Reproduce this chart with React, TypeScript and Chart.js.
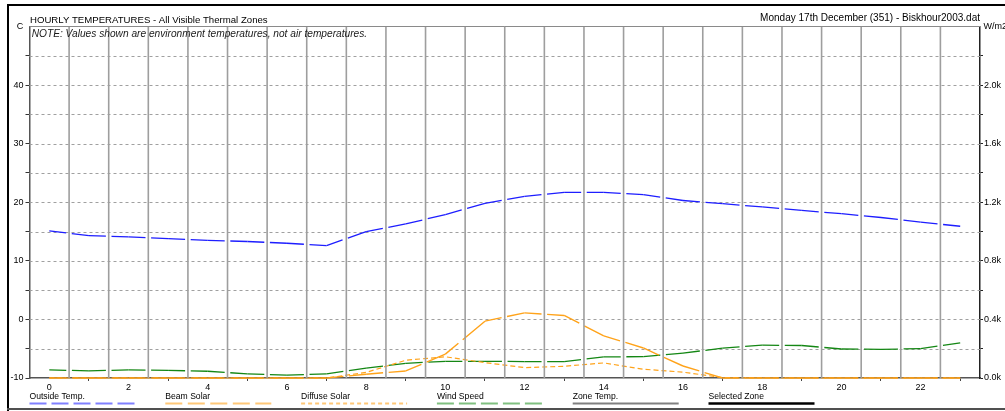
import React, { useEffect, useRef } from 'react';
import { Chart, registerables } from 'chart.js';

Chart.register(...registerables);

// ---------- data ----------
const hours = [0, 1, 2, 3, 4, 5, 6, 7, 8, 9, 10, 11, 12, 13, 14, 15, 16, 17, 18, 19, 20, 21, 22, 23];
const outsideTemp = [15.1, 14.3, 14.1, 13.8, 13.5, 13.3, 13.0, 12.6, 15.0, 16.3, 17.9, 19.8, 21.0, 21.7, 21.7, 21.3, 20.3, 19.75, 19.2, 18.6, 18.05, 17.4, 16.6, 15.9];
const beamSolar = [0, 0, 0, 0, 0, 0, 0, 0, 26, 48, 163, 388, 445, 427, 288, 205, 82, 0, 0, 0, 0, 0, 0, 0];
const diffuseSolar = [0, 0, 0, 0, 0, 0, 0, 0, 38, 121, 145, 105, 71, 80, 103, 60, 40, 3, 0, 0, 0, 0, 0, 0];
const windSpeed = [-8.6, -8.8, -8.6, -8.7, -8.85, -9.3, -9.5, -9.3, -8.3, -7.5, -7.15, -7.15, -7.2, -7.2, -6.4, -6.35, -5.75, -4.9, -4.4, -4.45, -5.05, -5.1, -5.0, -4.0];

const leftTicks = [-10, -5, 0, 5, 10, 15, 20, 25, 30, 35, 40, 45];
const rightTicks = [0, 200, 400, 600, 800, 1000, 1200, 1400, 1600, 1800, 2000, 2200];
const legendLabels = ['Outside Temp.', 'Beam Solar', 'Diffuse Solar', 'Wind Speed', 'Zone Temp.', 'Selected Zone'];

const titleText = 'HOURLY TEMPERATURES - All Visible Thermal Zones';
const noteText = 'NOTE: Values shown are environment temperatures, not air temperatures.';
const dateText = 'Monday 17th December (351) - Biskhour2003.dat';
const leftUnit = 'C';
const rightUnit = 'W/m2';

// ---------- styles ----------
const FONT = '"Liberation Sans", Arial, sans-serif';
const PERIOD = 39.6;
const HOUR_DASH = [34, 5.6];

const legendStyles = [
  { color: '#8080ff', dash: [17, 5], width: 2 },
  { color: '#ffc878', dash: [17, 5.5], width: 2 },
  { color: '#ffc878', dash: [4, 3], width: 2 },
  { color: '#80c080', dash: [17, 5], width: 2 },
  { color: '#808080', dash: [], width: 2 },
  { color: '#000000', dash: [], width: 2.5 },
];

function fitText(ctx: CanvasRenderingContext2D, text: string, target: number, style: string) {
  ctx.font = `${style} 10px ${FONT}`;
  const w = ctx.measureText(text).width;
  const size = (10 * target) / w;
  ctx.font = `${style} ${size.toFixed(2)}px ${FONT}`;
}

const decorPlugin = {
  id: 'decor',
  beforeDatasetsDraw(chart: any) {
    const { ctx, chartArea: a, scales } = chart;
    const y = scales.y;
    ctx.save();
    ctx.strokeStyle = '#a0a0a0';
    ctx.lineWidth = 1;
    ctx.setLineDash([3, 3]);
    for (const v of leftTicks) {
      if (v <= -10) continue;
      const py = Math.round(y.getPixelForValue(v)) + 0.5;
      ctx.beginPath();
      ctx.moveTo(a.left, py);
      ctx.lineTo(a.right, py);
      ctx.stroke();
    }
    ctx.restore();
  },
  afterDatasetsDraw(chart: any) {
    const { ctx, chartArea: a, scales } = chart;
    const x = scales.x;
    ctx.save();
    ctx.strokeStyle = '#9e9e9e';
    ctx.lineWidth = 1.6;
    for (const h of hours) {
      if (h >= 23) continue;
      const px = x.getPixelForValue(h + 0.5);
      ctx.beginPath();
      ctx.moveTo(px, a.top);
      ctx.lineTo(px, a.bottom);
      ctx.stroke();
    }
    // top border of plot
    ctx.strokeStyle = '#8a8a8a';
    ctx.lineWidth = 1;
    ctx.beginPath();
    ctx.moveTo(a.left, a.top);
    ctx.lineTo(a.right, a.top);
    ctx.stroke();
    ctx.restore();
  },
  afterDraw(chart: any) {
    const { ctx, chartArea: a, width, height } = chart;
    ctx.save();
    // outer frame
    ctx.fillStyle = '#000';
    ctx.fillRect(7, 4, width - 7, 2);
    ctx.fillRect(7, 4, 2, height - 4);
    ctx.fillStyle = '#505050';
    ctx.fillRect(7, height - 3, width - 7, 2);

    ctx.fillStyle = '#000';
    ctx.textBaseline = 'alphabetic';
    // unit labels
    ctx.font = `9px ${FONT}`;
    ctx.textAlign = 'center';
    ctx.fillText(leftUnit, 20, 28.5);
    ctx.textAlign = 'left';
    ctx.fillText(rightUnit, a.right + 3.5, 28.5);

    // title
    fitText(ctx, titleText, 238, '');
    ctx.textAlign = 'left';
    ctx.fillText(titleText, 30, 22.6);
    // date
    fitText(ctx, dateText, 220, '');
    ctx.textAlign = 'right';
    ctx.fillText(dateText, a.right, 20.6);
    // note
    fitText(ctx, noteText, 336, 'italic');
    ctx.textAlign = 'left';
    ctx.fillStyle = '#1a1a1a';
    ctx.fillText(noteText, 31.7, 36.8);

    // legend
    const step = 135.8;
    const len = 106;
    legendLabels.forEach((label, i) => {
      const lx = a.left + i * step;
      ctx.fillStyle = '#000';
      ctx.font = `8.6px ${FONT}`;
      ctx.textAlign = 'left';
      ctx.fillText(label, lx, 399.3);
      const st = legendStyles[i];
      ctx.strokeStyle = st.color;
      ctx.lineWidth = st.width;
      ctx.setLineDash(st.dash);
      ctx.beginPath();
      ctx.moveTo(lx, 403.5);
      ctx.lineTo(lx + len, 403.5);
      ctx.stroke();
    });
    ctx.setLineDash([]);
    ctx.restore();
  },
};

const hourSegment = {
  borderDashOffset: (c: any) => 17 + (c.p0DataIndex % 2) * PERIOD,
};

function pts(values: number[]) {
  return hours.map((h, i) => ({ x: h, y: values[i] }));
}

export default function App() {
  const ref = useRef<HTMLCanvasElement | null>(null);

  useEffect(() => {
    const canvas = ref.current;
    if (!canvas) return;
    const chart = new Chart(canvas, {
      type: 'line',
      data: {
        datasets: [
          {
            label: 'Outside Temp.',
            data: pts(outsideTemp),
            yAxisID: 'y',
            borderColor: 'rgb(30,30,255)',
            borderWidth: 1.3,
            borderDash: HOUR_DASH,
            segment: hourSegment,
            pointRadius: 0,
            tension: 0,
            clip: 3,
          },
          {
            label: 'Beam Solar',
            data: pts(beamSolar),
            yAxisID: 'y2',
            borderColor: '#ffa31a',
            borderWidth: 1.4,
            borderDash: HOUR_DASH,
            segment: hourSegment,
            pointRadius: 0,
            tension: 0,
            clip: 3,
          },
          {
            label: 'Diffuse Solar',
            data: pts(diffuseSolar),
            yAxisID: 'y2',
            borderColor: '#ffa31a',
            borderWidth: 1.2,
            borderDash: [5, 3],
            pointRadius: 0,
            tension: 0,
            clip: 3,
          },
          {
            label: 'Wind Speed',
            data: pts(windSpeed),
            yAxisID: 'y',
            borderColor: 'rgb(20,135,20)',
            borderWidth: 1.3,
            borderDash: HOUR_DASH,
            segment: hourSegment,
            pointRadius: 0,
            tension: 0,
            clip: 3,
          },
        ],
      },
      options: {
        animation: false,
        responsive: false,
        maintainAspectRatio: false,
        events: [],
        layout: { padding: { top: 26.5, left: 0, right: 0, bottom: 0 } },
        plugins: {
          legend: { display: false },
          tooltip: { enabled: false },
          title: { display: false },
        },
        scales: {
          x: {
            type: 'linear',
            min: -0.5,
            max: 23.5,
            afterBuildTicks: (s: any) => {
              s.ticks = hours.map((v) => ({ value: v }));
            },
            afterFit: (s: any) => {
              s.height = 33;
              s.paddingLeft = 0;
              s.paddingRight = 0;
            },
            ticks: {
              autoSkip: false,
              maxRotation: 0,
              padding: 1,
              color: '#000',
              font: { family: FONT, size: 9 },
              callback: (v: any) => (Number(v) % 2 === 0 ? String(v) : ''),
            },
            grid: {
              drawOnChartArea: false,
              drawTicks: true,
              tickLength: 3,
              tickWidth: 1,
              tickColor: (c: any) =>
                c.tick && Math.abs(c.tick.value % 2) === 1 ? '#444' : 'rgba(0,0,0,0)',
            },
            border: { display: true, color: '#555', width: 1.5 },
          },
          y: {
            type: 'linear',
            position: 'left',
            min: -10,
            max: 50,
            afterBuildTicks: (s: any) => {
              s.ticks = leftTicks.map((v) => ({ value: v }));
            },
            afterFit: (s: any) => {
              s.width = 29.5;
              s.paddingTop = 0;
              s.paddingBottom = 0;
            },
            ticks: {
              autoSkip: false,
              padding: 2,
              color: '#000',
              font: { family: FONT, size: 9 },
              callback: (v: any) => (Number(v) % 10 === 0 ? String(v) : ''),
            },
            grid: { drawOnChartArea: false, tickLength: 4, tickColor: '#333', tickWidth: 1 },
            border: { display: true, color: '#555', width: 1.5 },
          },
          y2: {
            type: 'linear',
            position: 'right',
            min: 0,
            max: 2400,
            afterBuildTicks: (s: any) => {
              s.ticks = rightTicks.map((v) => ({ value: v }));
            },
            afterFit: (s: any) => {
              s.width = 25;
              s.paddingTop = 0;
              s.paddingBottom = 0;
            },
            ticks: {
              autoSkip: false,
              padding: 1,
              color: '#000',
              font: { family: FONT, size: 9 },
              callback: (v: any) => (Number(v) % 400 === 0 ? (Number(v) / 1000).toFixed(1) + 'k' : ''),
            },
            grid: { drawOnChartArea: false, tickLength: 3, tickColor: '#222', tickWidth: 1 },
            border: { display: true, color: '#222', width: 1.5 },
          },
        },
      },
      plugins: [decorPlugin],
    } as any);
    return () => chart.destroy();
  }, []);

  return (
    <div style={{ position: 'fixed', left: 0, top: 0, width: 1005, height: 411, background: '#fff' }}>
      <canvas ref={ref} width={1005} height={411} style={{ display: 'block', width: 1005, height: 411 }} />
    </div>
  );
}
